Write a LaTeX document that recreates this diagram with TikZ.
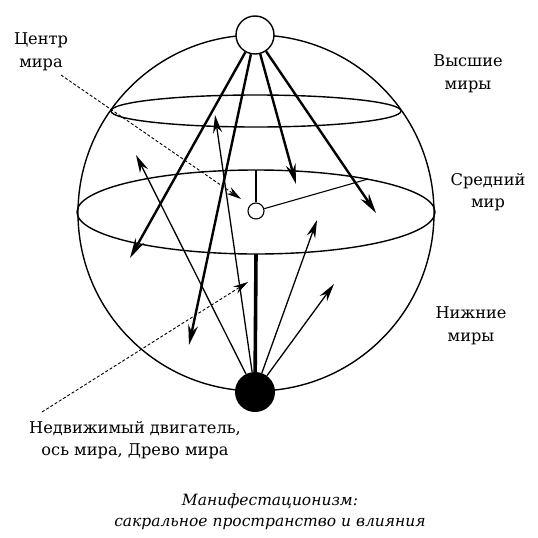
\documentclass[tikz,border=0pt]{standalone}
\usepackage{fontspec}
\setmainfont{DejaVu Serif}
\usetikzlibrary{arrows.meta}

\begin{document}
\begin{tikzpicture}[x=1pt,y=-1pt,
  worldlbl/.style={align=center,font=\fontsize{16.2}{22.5}\selectfont},
  downray/.style={line width=2.4pt,-{Stealth[length=20pt,width=10pt]}},
  upray/.style={line width=1.3pt,-{Stealth[length=18pt,width=9pt]}},
  pointer/.style={line width=0.9pt,dash pattern=on 3pt off 2pt,-{Stealth[length=15pt,width=8pt]}}]
\def\cx{256}
\useasboundingbox (0,0) rectangle (538,538);
% sphere and the two world levels
\draw[line width=1.4pt] (\cx,213) circle (178);
\draw[line width=1.4pt] (\cx,111) ellipse (145 and 16);
\draw[line width=1.4pt] (\cx,212) ellipse (179 and 42);
% poles
\node[circle,draw,line width=1.4pt,fill=white,minimum size=38pt,inner sep=0pt] (zenith) at (255,35) {};
\node[circle,fill=black,minimum size=40pt,inner sep=0pt] (mover) at (255,392) {};
\node[circle,draw,line width=1.1pt,fill=white,minimum size=16pt,inner sep=0pt] (centre) at (\cx,211) {};
\coordinate (midtop) at (\cx,170);
\coordinate (midbot) at (\cx,254);
\coordinate (rim) at (368,179);
\draw[line width=1.1pt] (centre) -- (midtop);
\draw[line width=1.1pt] (centre) -- (rim);
\draw[line width=3.6pt] (midbot) -- (mover);
% influences from above
\coordinate (d1) at (130,258);
\coordinate (d2) at (189,345);
\coordinate (d3) at (296,184);
\coordinate (d4) at (376,213);
\foreach \t in {d1,d2,d3,d4}
  \draw[downray] (zenith) -- (\t);
% influences from below
\coordinate (u1) at (136,155);
\coordinate (u2) at (215,115);
\coordinate (u3) at (317,220);
\coordinate (u4) at (334,284);
\foreach \t in {u1,u2,u3,u4}
  \draw[upray] (mover) -- (\t);
% labels
\path
(41,52) node[worldlbl] (ctrlbl) {Центр\\мира}
(468,74) node[worldlbl] (highlbl) {Высшие\\миры}
(488,192) node[worldlbl] (midlbl) {Средний\\мир}
(471,326) node[worldlbl] (lowlbl) {Нижние\\миры}
(135,440) node[worldlbl] (moverlbl) {Недвижимый двигатель,\\ось мира, Древо мира}
(270,512) node[worldlbl,font=\fontsize{15.5}{21}\selectfont\itshape] (caption) {Манифестационизм:\\сакральное пространство и влияния}
;
\coordinate (ctrfrom) at (61,75);
\coordinate (ctrtip) at (241,199);
\coordinate (axfrom) at (42,412);
\coordinate (axtip) at (248,282);
\draw[pointer] (ctrfrom) -- (ctrtip);
\draw[pointer] (axfrom) -- (axtip);
\end{tikzpicture}
\end{document}
